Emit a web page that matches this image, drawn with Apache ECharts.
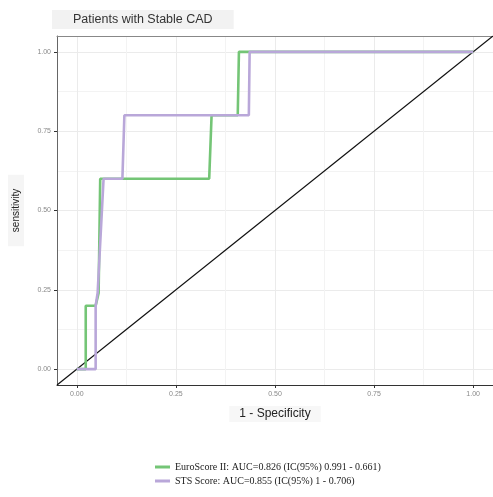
<!DOCTYPE html>
<html>
<head>
<meta charset="utf-8">
<script src="https://cdn.jsdelivr.net/npm/echarts@6/dist/echarts.min.js"></script>
<style>html,body{margin:0;padding:0;background:#fff}#c{width:493px;height:497px}</style>
</head>
<body>
<div id="c"></div>
<script>
// Data
const titleText = 'Patients with Stable CAD';
const xTicks = [0, 0.25, 0.5, 0.75, 1];
const yTicks = [0, 0.25, 0.5, 0.75, 1];
const minorTicks = [0.125, 0.375, 0.625, 0.875];
const seriesNames = ['EuroScore II: AUC=0.826 (IC(95%) 0.991 - 0.661)', 'STS Score: AUC=0.855 (IC(95%) 1 - 0.706)'];
const euroX = [0, 0.0225, 0.0225, 0.0475, 0.055, 0.059, 0.334, 0.34, 0.406, 0.409, 1];
const euroY = [0, 0, 0.2, 0.2, 0.24, 0.6, 0.6, 0.8, 0.8, 1, 1];
const stsX = [0, 0.0475, 0.0475, 0.0525, 0.0675, 0.115, 0.12, 0.434, 0.436, 1];
const stsY = [0, 0, 0.2, 0.24, 0.6, 0.6, 0.8, 0.8, 1, 1];
const diagX = [-0.05, 1.05];
const diagY = [-0.05, 1.05];

const zip = (a, b) => a.map((v, i) => [v, b[i]]);
const fmt = v => v.toFixed(2);

const chart = echarts.init(document.getElementById('c'), null, {renderer: 'canvas'});
const axisLabelStyle = {fontFamily: 'Liberation Sans', fontSize: 7, color: '#888'};
chart.setOption({
  animation: false,
  backgroundColor: '#fff',
  title: {
    text: titleText, left: 52, top: 10,
    backgroundColor: '#f2f2f2', padding: [3, 21, 3, 21],
    textStyle: {fontFamily: 'Liberation Sans', fontSize: 12.5, fontWeight: 'normal', color: '#333'}
  },
  grid: {left: 54, right: 0, top: 36, bottom: 112, containLabel: false},
  xAxis: [{
    type: 'value', min: -0.05, max: 1.05,
    name: '1 - Specificity', nameLocation: 'middle', nameGap: 21,
    nameTextStyle: {fontFamily: 'Liberation Sans', fontSize: 12, color: '#222', backgroundColor: '#f7f7f7', padding: [2, 10, 2, 10]},
    axisLine: {show: true, onZero: false, lineStyle: {color: '#333', width: 1}},
    axisTick: {show: true, length: 3, customValues: xTicks, lineStyle: {color: '#333'}},
    axisLabel: {show: true, customValues: xTicks, formatter: fmt, margin: 6, ...axisLabelStyle},
    splitLine: {show: true, lineStyle: {color: '#ebebeb', width: 1}}
  }, {
    type: 'value', min: -0.05, max: 1.05, position: 'bottom',
    axisLine: {show: false, onZero: false}, axisLabel: {show: false},
    axisTick: {show: false, customValues: minorTicks},
    splitLine: {show: true, lineStyle: {color: '#f3f3f3', width: 1}}
  }, {
    type: 'value', min: -0.05, max: 1.05, position: 'top',
    axisLine: {show: true, onZero: false, lineStyle: {color: '#888', width: 1}},
    axisLabel: {show: false}, axisTick: {show: false}, splitLine: {show: false}
  }],
  yAxis: [{
    type: 'value', min: -0.05, max: 1.05,
    name: 'sensitivity', nameLocation: 'middle', nameGap: 33,
    nameTextStyle: {fontFamily: 'Liberation Sans', fontSize: 10, color: '#222', backgroundColor: '#f5f5f5', padding: [3, 14, 3, 14]},
    axisLine: {show: true, onZero: false, lineStyle: {color: '#666', width: 1}},
    axisTick: {show: true, length: 3, customValues: yTicks, lineStyle: {color: '#333'}},
    axisLabel: {show: true, customValues: yTicks, formatter: fmt, margin: 6, ...axisLabelStyle},
    splitLine: {show: true, lineStyle: {color: '#ebebeb', width: 1}}
  }, {
    type: 'value', min: -0.05, max: 1.05, position: 'left',
    axisLine: {show: false, onZero: false}, axisLabel: {show: false},
    axisTick: {show: false, customValues: minorTicks},
    splitLine: {show: true, lineStyle: {color: '#f3f3f3', width: 1}}
  }],
  legend: {
    orient: 'vertical', left: 150, top: 457, itemGap: 4,
    itemWidth: 15, itemHeight: 3, icon: 'rect',
    data: seriesNames,
    textStyle: {fontFamily: 'Liberation Serif', fontSize: 10, color: '#222'}
  },
  series: [{
    name: 'diag', type: 'line', data: zip(diagX, diagY), symbol: 'none',
    lineStyle: {color: '#111', width: 1.2}, silent: true, z: 1
  }, {
    name: seriesNames[0], type: 'line', data: zip(euroX, euroY), symbol: 'none',
    color: '#74c576', lineStyle: {color: '#74c576', width: 2.6}, z: 2
  }, {
    name: seriesNames[1], type: 'line', data: zip(stsX, stsY), symbol: 'none',
    color: '#b9a7d9', lineStyle: {color: '#b9a7d9', width: 2.6}, z: 3
  }]
});
</script>
</body>
</html>
